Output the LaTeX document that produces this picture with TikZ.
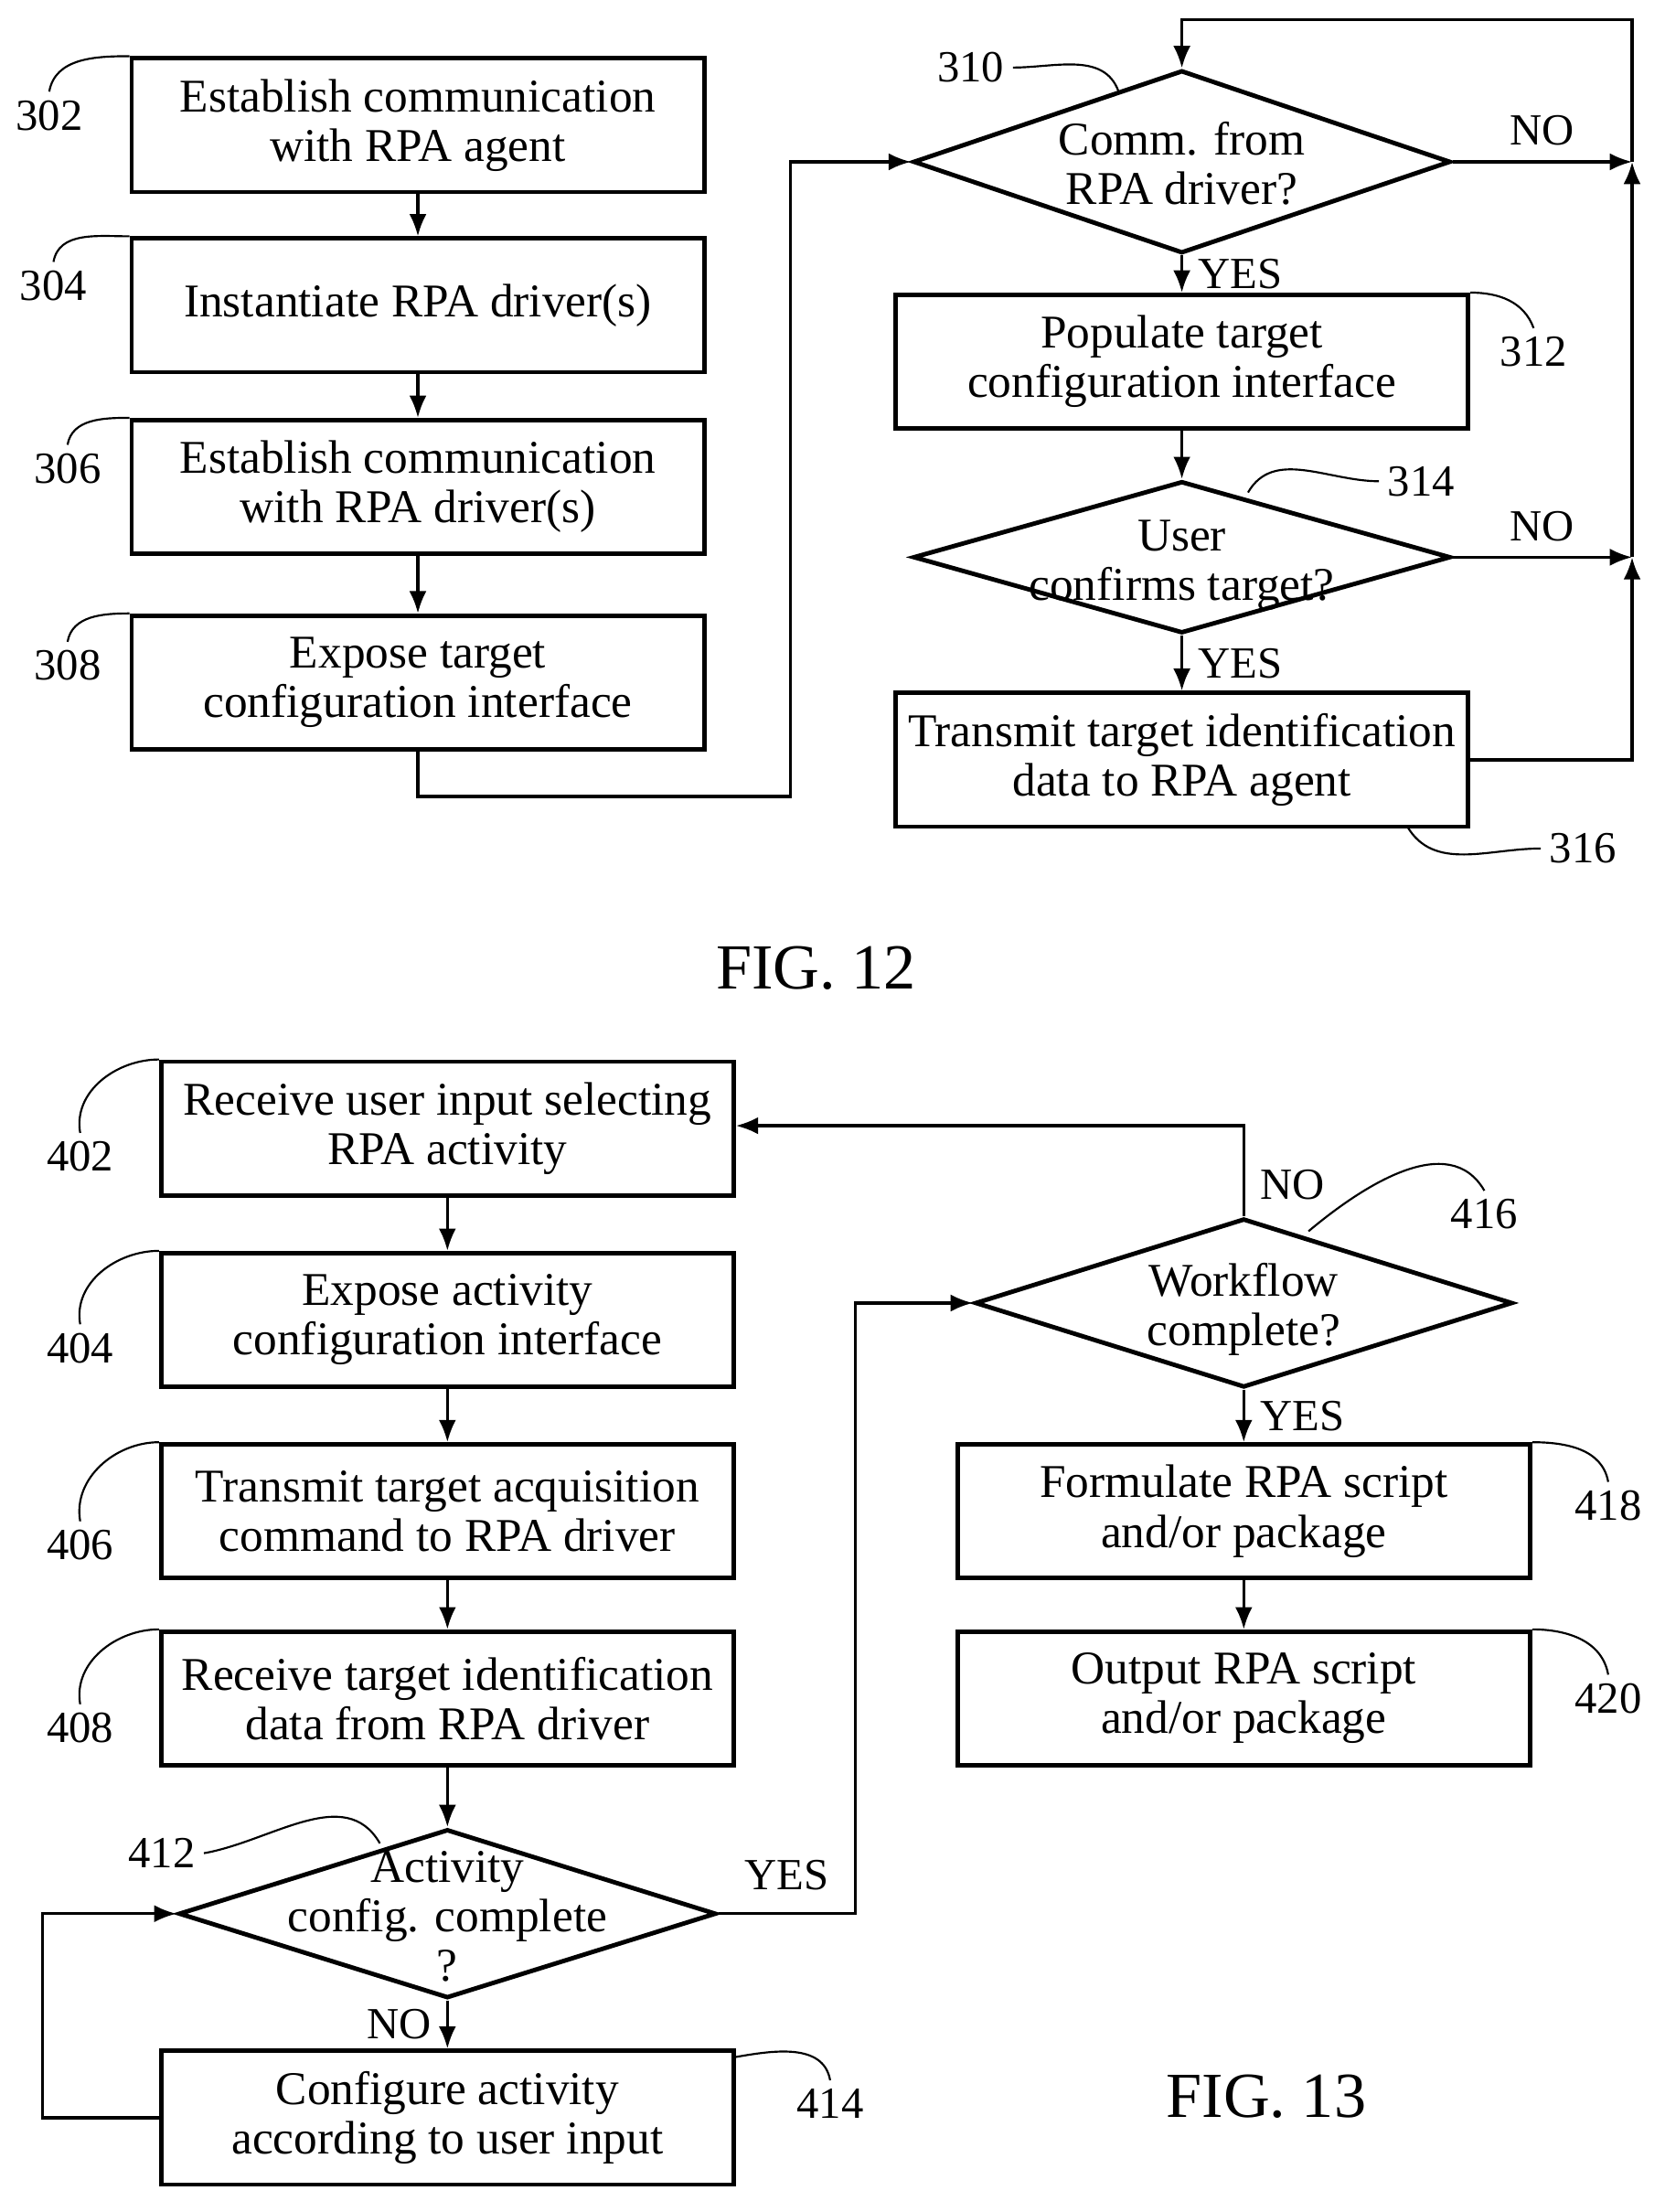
\documentclass[tikz,border=0pt]{standalone}
\usepackage{fontspec}
\setmainfont{Liberation Serif}
\usetikzlibrary{shapes.geometric,arrows.meta}

\newcommand{\dtext}[1]{\smash{\makebox[0pt]{\raisebox{-0.4em}{\begin{tabular}{@{}c@{}}#1\end{tabular}}}}}

\tikzset{
  action/.style={draw, line width=1.8pt, minimum width=8.14cm, minimum height=1.9cm, align=center, font=\fontsize{19}{20}\selectfont},
  test/.style={draw, line width=1.8pt, diamond, minimum width=7.64cm, minimum height=2.4cm, inner sep=0pt, font=\fontsize{19}{20}\selectfont},
  flow/.style={line width=1.2pt, -{Latex[length=9pt,width=7pt]}},
  ref/.style={font=\fontsize{18}{18}\selectfont},
  lead/.style={line width=0.8pt},
  tag/.style={font=\fontsize{18}{18}\selectfont, inner sep=6pt}
}

\begin{document}
\begin{tikzpicture}[x=0.02cm, y=-0.02cm]
    \useasboundingbox (0,0) rectangle (1183,1572);

    % FIG. 12, left column
    \node[action] (s302) at (297,89) {Establish communication\\with RPA agent};
    \node[action] (s304) at (297,217) {Instantiate RPA driver(s)};
    \node[action] (s306) at (297,346) {Establish communication\\with RPA driver(s)};
    \node[action] (s308) at (297,485) {Expose target\\configuration interface};
    \draw[flow] (s302) -- (s304);
    \draw[flow] (s304) -- (s306);
    \draw[flow] (s306) -- (s308);

    % FIG. 12, right column
    \node[test, minimum height=2.6cm] (d310) at (840,115) {\dtext{Comm. from\\RPA driver?}};
    \node[action] (s312) at (840,257) {Populate target\\configuration interface};
    \node[test, minimum height=2.16cm] (d314) at (840,396) {\dtext{User\\confirms target?}};
    \node[action] (s316) at (840,540) {Transmit target identification\\data to RPA agent};
    \coordinate (c1) at (1160,115);
    \coordinate (c2) at (1160,396);
    \coordinate (c3) at (1160,540);
    \draw[flow] (s308.south) |- (562,566) |- (d310.west);
    \draw[flow] (d310.south) -- node[tag, right] {YES} (s312.north);
    \draw[flow] (s312.south) -- (d314.north);
    \draw[flow] (d314.south) -- node[tag, right] {YES} (s316.north);
    \draw[flow] (d310.east) -- node[tag, above] {NO} (c1);
    \draw[flow] (d314.east) -- node[tag, above] {NO} (c2);
    \draw[flow] (s316.east) -- (c3) -- (c2);
    \draw[flow] (c2) -- (c1);
    \draw[flow] (c1) -- (1160,14) -| (d310.north);

    % FIG. 12, reference numerals
    \node[ref] (n302) at (35,82) {302};
    \node[ref] (n304) at (38,203) {304};
    \node[ref] (n306) at (48,333) {306};
    \node[ref] (n308) at (48,473) {308};
    \node[ref] (n310) at (690,48) {310};
    \node[ref] (n312) at (1090,250) {312};
    \node[ref] (n314) at (1010,342) {314};
    \node[ref] (n316) at (1125,603) {316};
    \draw[lead] (n302.north) to[out=80, in=180] (s302.north west);
    \draw[lead] (n304.north) to[out=80, in=180] (s304.north west);
    \draw[lead] (n306.north) to[out=80, in=180] (s306.north west);
    \draw[lead] (n308.north) to[out=80, in=180] (s308.north west);
    \draw[lead] (n310.east) to[out=0, in=110] (795,65);
    \draw[lead] (n312.north) to[out=110, in=0] (s312.north east);
    \draw[lead] (n314.west) to[out=180, in=60] (887,350);
    \draw[lead] (n316.west) to[out=180, in=-60] (1000,587);
    \node[font=\fontsize{26}{26}\selectfont] (fig12) at (580,688) {FIG. 12};

    % FIG. 13, left column
    \node[action] (s402) at (318,802) {Receive user input selecting\\RPA activity};
    \node[action] (s404) at (318,938) {Expose activity\\configuration interface};
    \node[action] (s406) at (318,1074) {Transmit target acquisition\\command to RPA driver};
    \node[action] (s408) at (318,1207) {Receive target identification\\data from RPA driver};
    \node[test] (d412) at (318,1360) {\dtext{Activity\\config. complete\\?}};
    \node[action] (s414) at (318,1505) {Configure activity\\according to user input};
    \draw[flow] (s402) -- (s404);
    \draw[flow] (s404) -- (s406);
    \draw[flow] (s406) -- (s408);
    \draw[flow] (s408.south) -- (d412.north);
    \draw[flow] (d412.south) -- node[tag, left] {NO} (s414.north);
    \draw[flow] (s414.west) -- (30,1505) |- (d412.west);

    % FIG. 13, right column
    \node[test] (d416) at (884,926) {\dtext{Workflow\\complete?}};
    \node[action] (s418) at (884,1074) {Formulate RPA script\\and/or package};
    \node[action] (s420) at (884,1207) {Output RPA script\\and/or package};
    \draw[flow] (d412.east) -- node[tag, above, yshift=3pt] {YES} (608,1360) |- (d416.west);
    \draw[flow] (d416.north) -- node[tag, right, pos=0.35] {NO} (884,800) -- (s402.east |- 0,800);
    \draw[flow] (d416.south) -- node[tag, right] {YES} (s418.north);
    \draw[flow] (s418) -- (s420);

    % FIG. 13, reference numerals
    \node[ref] (n402) at (57,822) {402};
    \node[ref] (n404) at (57,958) {404};
    \node[ref] (n406) at (57,1098) {406};
    \node[ref] (n408) at (57,1228) {408};
    \node[ref] (n412) at (115,1317) {412};
    \node[ref] (n414) at (590,1495) {414};
    \node[ref] (n416) at (1055,863) {416};
    \node[ref] (n418) at (1143,1070) {418};
    \node[ref] (n420) at (1143,1207) {420};
    \draw[lead] (n402.north) to[out=100, in=180] (s402.north west);
    \draw[lead] (n404.north) to[out=100, in=180] (s404.north west);
    \draw[lead] (n406.north) to[out=100, in=180] (s406.north west);
    \draw[lead] (n408.north) to[out=100, in=180] (s408.north west);
    \draw[lead] (n412.east) to[out=10, in=120] (270,1310);
    \draw[lead] (n414.north) to[out=100, in=10] (522,1462);
    \draw[lead] (n416.north) to[out=120, in=40] (930,875);
    \draw[lead] (n418.north) to[out=100, in=0] (s418.north east);
    \draw[lead] (n420.north) to[out=100, in=0] (s420.north east);
    \node[font=\fontsize{26}{26}\selectfont] (fig13) at (900,1490) {FIG. 13};
\end{tikzpicture}
\end{document}
